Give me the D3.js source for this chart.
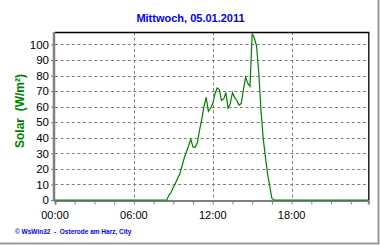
<!DOCTYPE html>
<html>
<head>
<meta charset="utf-8">
<script src="https://cdn.jsdelivr.net/npm/d3@7"></script>
<style>
  body { margin: 0; background: #fff; }
  svg { display: block; }
  text { font-family: Arial, "Liberation Sans", sans-serif; white-space: pre; }
</style>
</head>
<body>
<div id="container-chart"></div>
<script>
var title = "Mittwoch, 05.01.2011";
var yLabel = "Solar  (W/m²)";
var footer = "© WsWin32  -  Osterode am Harz, City";

var times = ["00:00",
  "08:30", "08:40", "08:50", "09:00", "09:10", "09:20", "09:30", "09:40", "09:50",
  "10:00", "10:10", "10:20", "10:30", "10:40", "10:50", "11:00", "11:10", "11:20",
  "11:30", "11:40", "11:50", "12:00", "12:10", "12:20", "12:30", "12:40", "12:50",
  "13:00", "13:10", "13:20", "13:30", "13:40", "13:50", "14:00", "14:10", "14:20",
  "14:30", "14:40", "14:50", "15:00", "15:10", "15:20", "15:30", "15:40", "15:50",
  "16:00", "16:10", "16:20", "16:30", "16:40", "23:50"];
var solar = [0,
  0, 3, 5, 8, 11, 14, 17, 22, 27,
  31, 35, 39, 34, 34, 37, 45, 52, 60,
  66, 57, 59, 62, 68, 72, 71, 64, 65,
  69, 59, 62, 69, 66, 64, 61, 62, 71,
  79, 75, 73, 107, 104, 99, 82, 58, 40,
  28, 17, 9, 1, 0, 0];

var xTickLabels = ["00:00", "06:00", "12:00", "18:00"];
var yTicks = [0, 10, 20, 30, 40, 50, 60, 70, 80, 90, 100];

function minutes(t) {
  var p = t.split(":");
  return +p[0] * 60 + +p[1];
}

function chartSolar(width, height) {
  var svg = d3.select("#container-chart")
    .append("svg")
      .attr("width", width)
      .attr("height", height);

  var data = times.map((t, i) => ({ t: minutes(t), v: solar[i] }));

  var x = d3.scaleLinear()
    .domain([0, 1430])
    .range([55, 368.3]);
  var y = d3.scaleLinear()
    .domain([0, 108])
    .range([200, 32]);

  // outer frame
  svg.append("path")
    .attr("d", "M378.5,0V243.5H0")
    .attr("fill", "none")
    .attr("stroke", "#999")
    .attr("stroke-width", 2);

  // grid
  svg.append("g")
    .selectAll("line")
    .data(yTicks.slice(1))
    .join("line")
      .attr("x1", x(0)).attr("x2", x(1430))
      .attr("y1", d => Math.round(y(d)) + 0.5).attr("y2", d => Math.round(y(d)) + 0.5)
      .attr("stroke", "#808080")
      .attr("stroke-dasharray", "3,2.6");
  svg.append("g")
    .selectAll("line")
    .data(xTickLabels.slice(1).map(minutes))
    .join("line")
      .attr("x1", d => Math.round(x(d)) + 0.5).attr("x2", d => Math.round(x(d)) + 0.5)
      .attr("y1", y(108)).attr("y2", y(0))
      .attr("stroke", "#808080")
      .attr("stroke-dasharray", "3,2.6");

  // top and right border
  svg.append("path")
    .attr("d", "M" + x(0) + "," + (y(108) + 0.5) + "H" + (x(1430) + 0.5) + "V" + y(0))
    .attr("fill", "none")
    .attr("stroke", "#000")
    .attr("stroke-width", 1.3);

  // x axis
  var xAxis = svg.append("g")
    .attr("transform", "translate(0,200.5)")
    .call(d3.axisBottom(x)
      .tickValues(d3.range(0, 1430, 90))
      .tickSize(4)
      .tickFormat(""));
  xAxis.select(".domain").attr("stroke", "#808080").attr("stroke-width", 2);
  xAxis.selectAll(".tick line").attr("stroke", "#808080");
  svg.append("g")
    .selectAll("text")
    .data(xTickLabels)
    .join("text")
      .attr("x", d => x(minutes(d)))
      .attr("y", 218.5)
      .attr("text-anchor", "middle")
      .attr("font-size", "11px")
      .attr("fill", "#000")
      .text(d => d);

  // y axis
  var yAxis = svg.append("g")
    .attr("transform", "translate(54,0)")
    .call(d3.axisLeft(y)
      .tickValues(yTicks)
      .tickSize(3)
      .tickPadding(2));
  yAxis.select(".domain").attr("stroke", "#808080").attr("stroke-width", 2.5)
    .attr("d", "M0," + y(108) + "V" + (y(0) + 1.5));
  yAxis.selectAll(".tick line").attr("stroke", "#808080");
  yAxis.selectAll(".tick text")
    .attr("font-size", "11.5px")
    .attr("font-family", "Arial, 'Liberation Sans', sans-serif")
    .attr("fill", "#000");

  // series
  svg.append("path")
    .datum(data)
    .attr("fill", "none")
    .attr("stroke", "#008000")
    .attr("stroke-width", 1.2)
    .attr("d", d3.line()
      .x(d => x(d.t))
      .y(d => y(d.v))
    );

  // texts
  svg.append("text")
    .attr("x", 190.5)
    .attr("y", 21.5)
    .attr("text-anchor", "middle")
    .attr("font-size", "11px")
    .attr("font-weight", "bold")
    .attr("fill", "#0000ff")
    .text(title);

  svg.append("text")
    .attr("transform", "translate(23.5,111) rotate(-90)")
    .attr("text-anchor", "middle")
    .attr("font-size", "12px")
    .attr("font-weight", "bold")
    .attr("fill", "#008000")
    .text(yLabel);

  svg.append("text")
    .attr("x", 15)
    .attr("y", 233.5)
    .attr("font-size", "6.5px")
    .attr("font-weight", "bold")
    .attr("fill", "#0000ff")
    .text(footer);
}

chartSolar(380, 245);
</script>
</body>
</html>
